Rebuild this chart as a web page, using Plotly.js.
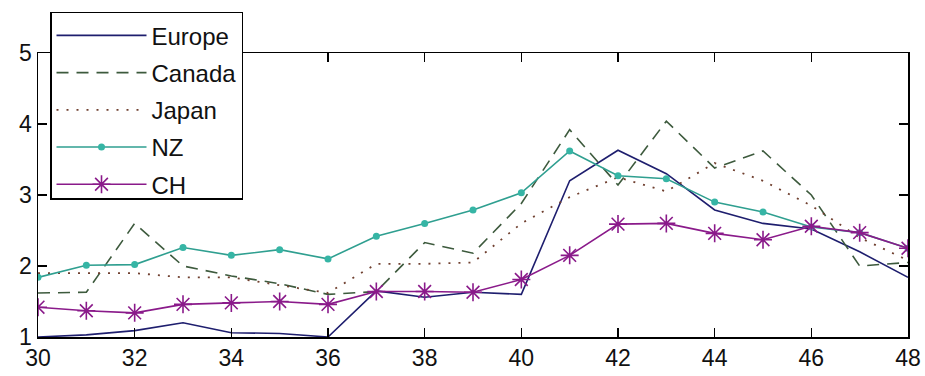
<!DOCTYPE html>
<html>
<head>
<meta charset="utf-8">
<script src="https://cdn.plot.ly/plotly-3.0.1.min.js"></script>
<style>
html,body{margin:0;padding:0;background:#fff;}
#chart{width:925px;height:376px;}
</style>
</head>
<body>
<div id="chart"></div>
<script>
const years = [30,31,32,33,34,35,36,37,38,39,40,41,42,43,44,45,46,47,48];
const europe = [1.0,1.03,1.09,1.2,1.06,1.05,1.0,1.65,1.56,1.63,1.6,3.2,3.63,3.3,2.79,2.6,2.52,2.2,1.84];
const canada = [1.62,1.63,2.6,2.0,1.86,1.75,1.6,1.64,2.33,2.18,2.88,3.92,3.14,4.04,3.38,3.62,3.0,2.0,2.05];
const japan = [1.9,1.9,1.9,1.84,1.84,1.73,1.62,2.03,2.03,2.05,2.6,2.97,3.25,3.05,3.45,3.2,2.85,2.4,2.08];
const nz = [1.84,2.01,2.02,2.26,2.15,2.23,2.1,2.42,2.6,2.79,3.03,3.62,3.27,3.23,2.9,2.76,2.55,2.47,2.25];
const ch = [1.42,1.37,1.34,1.46,1.48,1.5,1.46,1.64,1.64,1.63,1.81,2.15,2.59,2.6,2.46,2.37,2.56,2.47,2.25];
const seriesNames = ['Europe','Canada','Japan','NZ','CH'];
const xTicks = [30,32,34,36,38,40,42,44,46,48];
const yTicks = [1,2,3,4,5];

const traces = [
  {x: years, y: europe, name: seriesNames[0], legendgroup: 'g0', mode: 'lines',
   line: {color: '#1e1e6e', width: 1.6}},
  {x: years, y: canada, name: seriesNames[1], legendgroup: 'g1', mode: 'lines',
   line: {color: '#3d5a3d', width: 1.6, dash: '12px,8px'}},
  {x: years, y: japan, name: seriesNames[2], legendgroup: 'g2', mode: 'lines',
   line: {color: '#704030', width: 1.8, dash: '2px,8px'}},
  {x: years, y: nz, name: seriesNames[3], legendgroup: 'g3', mode: 'lines+markers',
   line: {color: '#2f9f90', width: 1.6},
   marker: {symbol: 'circle', size: 7, color: '#36b5a5'}},
  {x: years, y: ch, name: seriesNames[4], legendgroup: 'g4', mode: 'lines+markers',
   line: {color: '#8a1a8a', width: 1.6},
   marker: {symbol: 'asterisk-open', size: 15, line: {color: '#9a1aa0', width: 1.6}}}
];

const axisCommon = {
  showgrid: false, zeroline: false, showline: true, linecolor: '#000', linewidth: 1.5,
  mirror: 'ticks', ticks: 'inside', ticklen: 9, tickwidth: 1.5, tickcolor: '#000',
  tickfont: {family: 'Liberation Sans, Arial, sans-serif', size: 23, color: '#111'}
};

const layout = {
  width: 925, height: 376,
  margin: {l: 38, r: 17, t: 50, b: 39},
  paper_bgcolor: '#fff', plot_bgcolor: '#fff',
  showlegend: true,
  xaxis: Object.assign({}, axisCommon, {range: [30, 48], tickvals: xTicks, ticktext: xTicks.map(String)}),
  yaxis: Object.assign({}, axisCommon, {range: [1, 5], tickvals: yTicks, ticktext: yTicks.map(String)}),
  legend: {
    x: 0.0138, y: 1.145, xanchor: 'left', yanchor: 'top',
    bgcolor: '#fff', bordercolor: '#000', borderwidth: 1.5,
    itemwidth: 90, traceorder: 'grouped', tracegroupgap: 3,
    font: {family: 'Liberation Sans, Arial, sans-serif', size: 24, color: '#111'}
  }
};

Plotly.newPlot('chart', traces, layout, {displayModeBar: false, staticPlot: true});
</script>
</body>
</html>
